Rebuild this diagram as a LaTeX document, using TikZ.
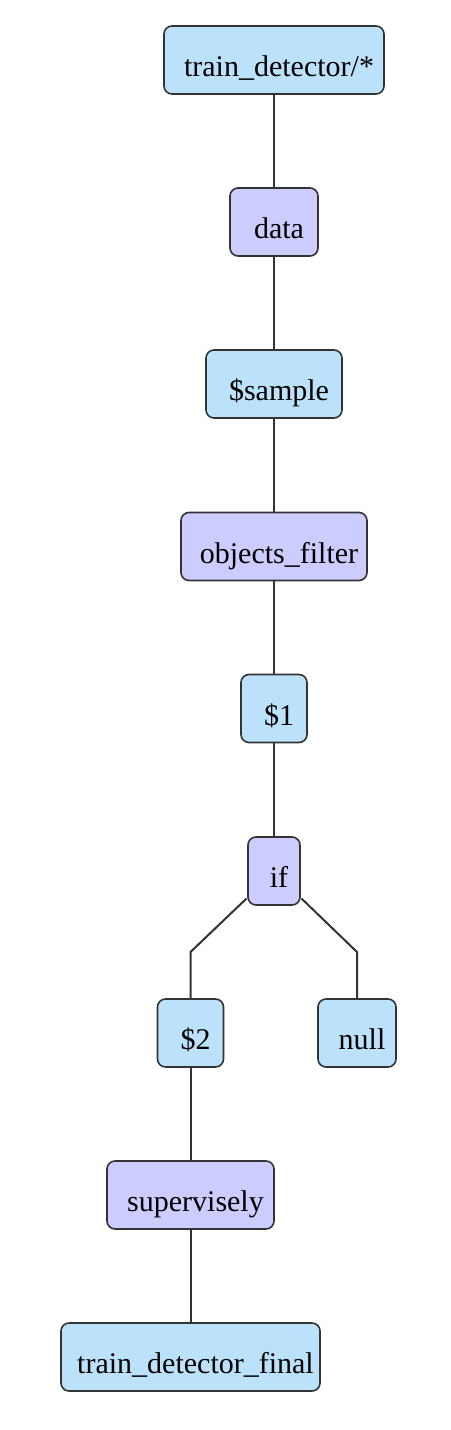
\documentclass[tikz,border=0pt]{standalone}
\usepackage{fontspec}
\setmainfont{Liberation Serif}
\definecolor{nblue}{HTML}{BBE2FA}
\definecolor{npurple}{HTML}{CCCCFF}
\definecolor{edge}{HTML}{333333}
\tikzset{
  nbox/.style={rectangle, rounded corners=6pt, draw=edge, line width=1.2pt, inner sep=0pt,
    minimum height=51pt, text height=25pt, text depth=0pt, font=\fontsize{22.5}{27}\selectfont},
  bluebox/.style={nbox, fill=nblue},
  purplebox/.style={nbox, fill=npurple},
  conn/.style={draw=edge, line width=1.5pt}
}
\newcommand{\lbl}[1]{\hspace*{7.5pt}#1}
\begin{document}
\begin{tikzpicture}[x=0.75pt,y=-0.75pt]
\useasboundingbox (0,0) rectangle (450,1430);
\node[bluebox, minimum width=165pt] (n1) at (274,60) {\lbl{train\_detector/*}};
\node[purplebox, minimum width=66pt] (n2) at (274,222) {\lbl{data}};
\node[bluebox, minimum width=102pt] (n3) at (274,384) {\lbl{\$sample}};
\node[purplebox, minimum width=139.5pt] (n4) at (274,546.5) {\lbl{objects\_filter}};
\node[bluebox, minimum width=49.5pt] (n5) at (274,708.5) {\lbl{\$1}};
\node[purplebox, minimum width=39pt] (n6) at (274,871) {\lbl{if}};
\node[bluebox, minimum width=49.5pt] (n7) at (190.5,1033) {\lbl{\$2}};
\node[bluebox, minimum width=58.5pt] (n8) at (357,1033) {\lbl{null}};
\node[purplebox, minimum width=125.25pt] (n9) at (190.5,1195) {\lbl{supervisely}};
\node[bluebox, minimum width=194.25pt] (n10) at (190.5,1357) {\lbl{train\_detector\_final}};
\coordinate (k1) at (190.5,952);
\coordinate (k2) at (357,952);
\draw[conn] (n1.south) -- (n2.north);
\draw[conn] (n2.south) -- (n3.north);
\draw[conn] (n3.south) -- (n4.north);
\draw[conn] (n4.south) -- (n5.north);
\draw[conn] (n5.south) -- (n6.north);
\draw[conn] ([xshift=-0.5pt,yshift=5.5pt]n6.south west) -- (k1) -- (n7.north);
\draw[conn] ([xshift=0.5pt,yshift=5.5pt]n6.south east) -- (k2) -- (n8.north);
\draw[conn] (n7.south) -- (n9.north);
\draw[conn] (n9.south) -- (n10.north);
\end{tikzpicture}
\end{document}
